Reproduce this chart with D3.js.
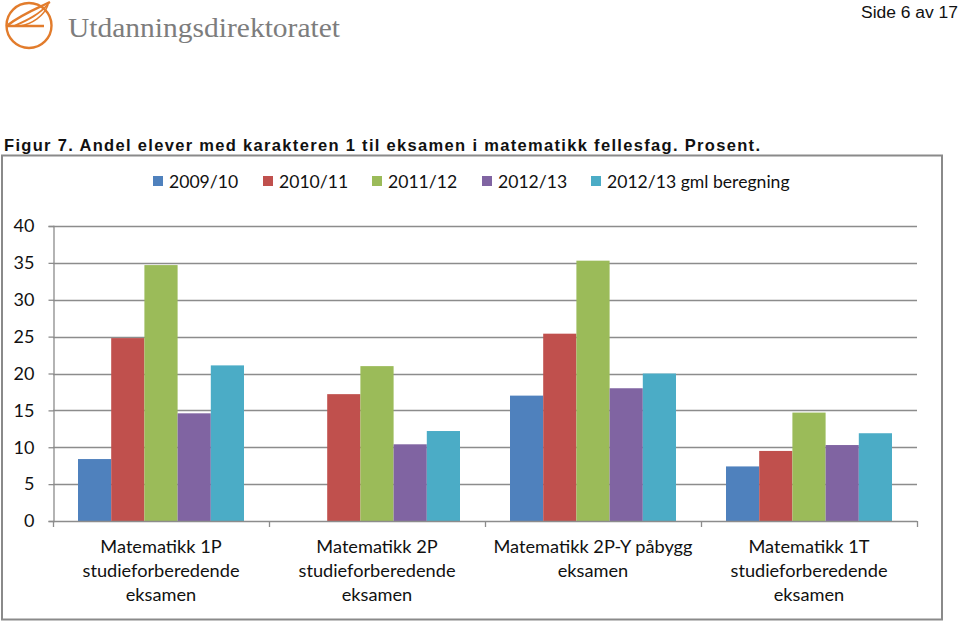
<!DOCTYPE html>
<html>
<head>
<meta charset="utf-8">
<script src="https://cdnjs.cloudflare.com/ajax/libs/d3/7.8.5/d3.min.js"></script>
<style>
  html, body { margin: 0; padding: 0; background: #fff; }
  svg { display: block; }
</style>
</head>
<body>
<script>
// ---- data ----
const categories = [
  ["Matematikk 1P", "studieforberedende", "eksamen"],
  ["Matematikk 2P", "studieforberedende", "eksamen"],
  ["Matematikk 2P-Y påbygg", "eksamen"],
  ["Matematikk 1T", "studieforberedende", "eksamen"]
];
const seriesNames = ["2009/10", "2010/11", "2011/12", "2012/13", "2012/13 gml beregning"];
const s2009 = [8.4, 0, 17.0, 7.4];
const s2010 = [24.8, 17.2, 25.4, 9.5];
const s2011 = [34.7, 21.0, 35.3, 14.7];
const s2012 = [14.6, 10.4, 18.0, 10.3];
const s2012gml = [21.1, 12.2, 20.0, 11.9];
const yTicks = [0, 5, 10, 15, 20, 25, 30, 35, 40];
const colors = ["#4F81BD", "#C0504D", "#9BBB59", "#8064A2", "#4BACC6"];
const seriesValues = [s2009, s2010, s2011, s2012, s2012gml];

const W = 960, H = 624;
const svg = d3.select("body").append("svg").attr("width", W).attr("height", H);
const chartFont = "Lato, 'Open Sans', sans-serif";

// ---- page header ----
svg.append("text").attr("x", 861).attr("y", 18)
  .attr("font-family", "'Liberation Sans', Arial, sans-serif").attr("font-size", 16)
  .attr("textLength", 97).attr("lengthAdjust", "spacingAndGlyphs")
  .attr("fill", "#111").text("Side 6 av 17");

// logo
const logo = svg.append("g").attr("fill", "none").attr("stroke", "#E27C2C").attr("stroke-width", 2.4);
logo.append("circle").attr("cx", 29).attr("cy", 25.5).attr("r", 22.5);
logo.append("path").attr("d", "M7,26 L44,26");
logo.append("path").attr("d", "M8,25 C22,14 38,8 50,2");
logo.append("path").attr("d", "M14,26 C28,20 40,14 49,3").attr("stroke-width", 1.8);
logo.append("path").attr("d", "M20,26 C32,24 44,16 48,5").attr("stroke-width", 1.5);
svg.append("text").attr("x", 68).attr("y", 37)
  .attr("font-family", "'Liberation Serif', 'DejaVu Serif', serif").attr("font-size", 28)
  .attr("textLength", 272).attr("lengthAdjust", "spacingAndGlyphs")
  .attr("fill", "#7d7d7d").text("Utdanningsdirektoratet");

// title
svg.append("text").attr("x", 4).attr("y", 151)
  .attr("font-family", "'Liberation Sans', Arial, sans-serif").attr("font-size", 16.5)
  .attr("font-weight", "bold")
  .attr("textLength", 756).attr("lengthAdjust", "spacing")
  .attr("fill", "#111")
  .text("Figur 7. Andel elever med karakteren 1 til eksamen i matematikk fellesfag. Prosent.");

// chart border
svg.append("rect").attr("x", 2).attr("y", 155.5).attr("width", 940).attr("height", 464)
  .attr("fill", "none").attr("stroke", "#8a8a8a").attr("stroke-width", 2);

// ---- scales ----
const x0 = d3.scaleBand().domain(d3.range(categories.length)).range([53, 917]).padding(0);
const x1 = d3.scaleBand().domain(d3.range(seriesNames.length))
  .range([25, x0.bandwidth() - 25]).padding(0);
const y = d3.scaleLinear().domain([0, 40]).range([521, 226]);

// gridlines
svg.append("g").selectAll("line").data(yTicks.filter(d => d > 0)).join("line")
  .attr("x1", 53).attr("x2", 917)
  .attr("y1", d => Math.round(y(d)) + 0.5).attr("y2", d => Math.round(y(d)) + 0.5)
  .attr("stroke", "#8c8c8c").attr("stroke-width", 1.3);

// bars
const groups = svg.append("g").selectAll("g").data(categories).join("g")
  .attr("transform", (d, i) => `translate(${x0(i)},0)`);
groups.selectAll("rect")
  .data((d, i) => seriesValues.map((s, k) => ({ k, v: s[i] })).filter(o => o.v > 0))
  .join("rect")
  .attr("x", o => x1(o.k)).attr("width", x1.bandwidth())
  .attr("y", o => y(o.v)).attr("height", o => y(0) - y(o.v))
  .attr("fill", o => colors[o.k]);

// y axis
const yAxis = d3.axisLeft(y).tickValues(yTicks).tickSize(5).tickPadding(15);
const gy = svg.append("g").attr("transform", "translate(53.5,0)").call(yAxis);
gy.select(".domain").attr("stroke", "#8c8c8c").attr("stroke-width", 1.3);
gy.selectAll(".tick line").attr("stroke", "#8c8c8c").attr("stroke-width", 1.3);
gy.selectAll(".tick text").attr("font-family", chartFont).attr("font-size", 18)
  .attr("fill", "#111").attr("text-anchor", "end").attr("dx", 0);
gy.selectAll(".tick text").attr("x", -19);

// x axis line + boundary ticks
const boundaries = d3.range(categories.length + 1).map(i => i < categories.length ? x0(i) : x0.range()[1]);
const gx = svg.append("g");
gx.append("line").attr("x1", 53).attr("x2", 917).attr("y1", 521.5).attr("y2", 521.5)
  .attr("stroke", "#8c8c8c").attr("stroke-width", 1.3);
gx.selectAll(".bt").data(boundaries).join("line").attr("class", "bt")
  .attr("x1", d => Math.round(d) + 0.5).attr("x2", d => Math.round(d) + 0.5)
  .attr("y1", 521).attr("y2", 527).attr("stroke", "#8c8c8c").attr("stroke-width", 1.3);

// category labels
const lab = svg.append("g").selectAll("text").data(categories).join("text")
  .attr("text-anchor", "middle").attr("font-family", chartFont).attr("font-size", 18.2)
  .attr("fill", "#111")
  .attr("transform", (d, i) => `translate(${x0(i) + x0.bandwidth() / 2},553)`);
lab.selectAll("tspan").data(d => d).join("tspan")
  .attr("x", 0).attr("dy", (d, j) => j === 0 ? 0 : 24).text(d => d);

// legend
const legendX = [153, 263, 372, 482, 591];
const lg = svg.append("g").selectAll("g").data(seriesNames).join("g")
  .attr("transform", (d, i) => `translate(${legendX[i]},176)`);
lg.append("rect").attr("width", 10).attr("height", 10).attr("fill", (d, i) => colors[i]);
lg.append("text").attr("x", 16).attr("y", 11.5).attr("font-family", chartFont)
  .attr("font-size", 17.6).attr("fill", "#111").text(d => d);
</script>
</body>
</html>
